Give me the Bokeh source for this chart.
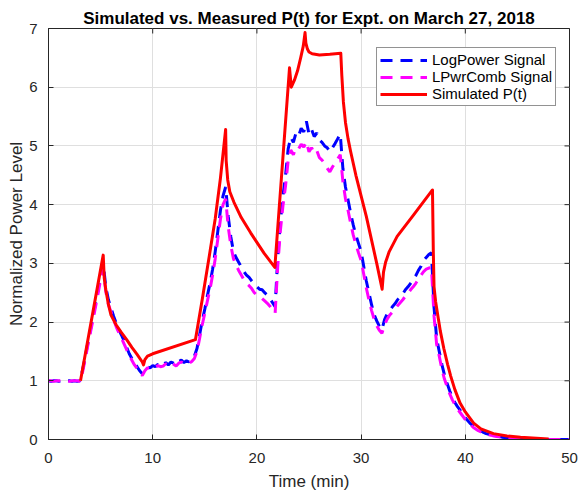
import numpy as np
from bokeh.plotting import figure
from bokeh.models import SingleIntervalTicker, Legend, LegendItem
from bokeh.embed import file_html
from bokeh.resources import INLINE

# ---- data ----
t_meas = np.arange(0, 50.001, 0.25)

logpower = [
    1.00, 0.99, 1.00, 1.00, 0.99, 1.00, 0.99, 1.00, 1.00, 0.99, 1.00, 0.99, 1.00, 1.17, 1.38, 1.62, 1.85, 2.08, 2.30, 2.55,
    2.80, 3.00, 2.60, 2.38, 2.24, 2.10, 1.98, 1.87, 1.78, 1.68, 1.57, 1.46, 1.38, 1.30, 1.24, 1.17, 1.12, 1.20, 1.24, 1.22,
    1.26, 1.24, 1.28, 1.25, 1.27, 1.31, 1.27, 1.32, 1.30, 1.27, 1.33, 1.35, 1.31, 1.34, 1.32, 1.36, 1.42, 1.55, 1.78, 2.02,
    2.22, 2.45, 2.66, 2.90, 3.20, 3.55, 3.90, 4.15, 4.30, 3.80, 3.45, 3.20, 3.10, 3.02, 2.94, 2.86, 2.80, 2.76, 2.70, 2.64,
    2.60, 2.56, 2.55, 2.50, 2.46, 2.40, 2.33, 2.26, 3.10, 3.70, 4.15, 4.50, 4.95, 5.15, 5.06, 5.22, 5.17, 5.30, 5.24, 5.42,
    5.20, 5.28, 5.16, 5.22, 5.10, 5.06, 5.00, 4.97, 4.90, 4.97, 5.04, 5.12, 5.20, 4.62, 4.30, 4.08, 3.85, 3.65, 3.48, 3.34,
    3.20, 2.95, 2.70, 2.50, 2.30, 2.13, 2.02, 1.93, 1.87, 2.04, 2.14, 2.20, 2.26, 2.31, 2.38, 2.42, 2.48, 2.55, 2.60, 2.66,
    2.72, 2.79, 2.88, 2.95, 3.05, 3.10, 3.15, 3.18, 2.25, 1.72, 1.50, 1.28, 1.10, 0.96, 0.83, 0.72, 0.63, 0.56, 0.50, 0.43,
    0.37, 0.32, 0.27, 0.23, 0.20, 0.17, 0.15, 0.12, 0.10, 0.09, 0.08, 0.07, 0.06, 0.05, 0.04, 0.035, 0.03, 0.025, 0.02, 0.015,
    0.012, 0.010, 0.008, 0.007, 0.006, 0.005, 0.004, 0.003, 0.003, 0.002, 0.002, 0.002, 0.001, 0.001, 0.001, 0.001, 0.0, 0.0, 0.0, 0.0,
    0.0,
]

lpwrcomb = [
    1.00, 1.00, 0.99, 1.00, 1.00, 0.99, 1.00, 1.00, 0.99, 1.00, 1.00, 1.00, 0.99, 1.13, 1.35, 1.58, 1.80, 2.02, 2.25, 2.48,
    2.72, 2.90, 2.52, 2.30, 2.17, 2.04, 1.92, 1.82, 1.73, 1.63, 1.53, 1.43, 1.35, 1.27, 1.21, 1.14, 1.09, 1.17, 1.22, 1.21,
    1.24, 1.23, 1.26, 1.24, 1.25, 1.29, 1.26, 1.30, 1.28, 1.25, 1.30, 1.32, 1.29, 1.31, 1.30, 1.33, 1.38, 1.50, 1.72, 1.95,
    2.15, 2.36, 2.56, 2.80, 3.08, 3.42, 3.75, 4.00, 4.10, 3.62, 3.30, 3.08, 2.97, 2.88, 2.80, 2.72, 2.66, 2.62, 2.57, 2.50,
    2.46, 2.42, 2.40, 2.36, 2.32, 2.27, 2.21, 2.15, 2.95, 3.55, 3.98, 4.32, 4.75, 4.93, 4.85, 4.97, 4.95, 5.03, 4.98, 5.07,
    4.90, 4.97, 4.88, 4.92, 4.80, 4.76, 4.70, 4.62, 4.56, 4.64, 4.71, 4.78, 4.85, 4.40, 4.10, 3.90, 3.68, 3.48, 3.32, 3.18,
    3.05, 2.82, 2.58, 2.38, 2.20, 2.05, 1.94, 1.86, 1.81, 1.95, 2.05, 2.12, 2.17, 2.22, 2.28, 2.33, 2.38, 2.44, 2.49, 2.55,
    2.60, 2.66, 2.73, 2.80, 2.86, 2.90, 2.92, 2.93, 2.10, 1.62, 1.42, 1.20, 1.03, 0.90, 0.78, 0.68, 0.59, 0.52, 0.46, 0.40,
    0.34, 0.29, 0.25, 0.21, 0.18, 0.15, 0.13, 0.11, 0.09, 0.08, 0.07, 0.06, 0.05, 0.045, 0.04, 0.03, 0.025, 0.02, 0.015, 0.012,
    0.010, 0.008, 0.007, 0.006, 0.005, 0.004, 0.003, 0.003, 0.002, 0.002, 0.002, 0.001, 0.001, 0.001, 0.001, 0.0, 0.0, 0.0, 0.0, 0.0,
    0.0,
]

t_sim = [3.07, 5.25, 5.35, 5.5, 5.75, 6.0, 6.5, 7.0, 7.5, 8.0, 8.5, 9.0, 9.12, 9.25, 9.5, 10.0,
         14.1, 14.75, 15.5, 16.0, 16.5, 17.0, 17.05, 17.2, 17.4, 17.8, 18.5, 19.4, 20.7, 21.72,
         23.13, 23.3, 23.6, 23.9, 24.2, 24.45, 24.62, 24.7, 24.85, 25.0, 25.3, 26.0, 27.0, 28.05,
         28.15, 28.3, 28.5, 28.75, 29.0, 29.5, 30.0, 30.5, 31.0, 31.5, 32.02, 32.15, 32.35, 32.7, 33.46,
         35.06, 36.85, 36.93, 37.0, 37.15, 37.3, 37.6, 37.94, 38.3, 38.6, 39.0, 39.5, 40.0, 40.8,
         41.5, 42.7, 44.0, 45.3, 48.0]
p_sim = [1.00, 3.14, 2.75, 2.55, 2.30, 2.12, 1.95, 1.82, 1.70, 1.57, 1.45, 1.32, 1.27, 1.36, 1.42, 1.46,
         1.70, 2.38, 3.20, 3.76, 4.45, 5.28, 4.75, 4.42, 4.22, 4.04, 3.78, 3.52, 3.17, 2.93,
         6.33, 6.00, 6.12, 6.28, 6.50, 6.70, 6.93, 6.75, 6.65, 6.60, 6.57, 6.55, 6.56, 6.58,
         6.20, 5.75, 5.40, 5.12, 4.90, 4.50, 4.15, 3.80, 3.40, 3.00, 2.56, 2.85, 3.02, 3.20, 3.46,
         3.83, 4.25, 3.20, 2.60, 2.35, 2.18, 1.85, 1.55, 1.28, 1.08, 0.85, 0.62, 0.47, 0.28,
         0.18, 0.10, 0.06, 0.04, 0.01]

series_names = ["LogPower Signal", "LPwrComb Signal", "Simulated P(t)"]
title_text = "Simulated vs. Measured P(t) for Expt. on March 27, 2018"
x_label = "Time (min)"
y_label = "Normalized Power Level"
x_ticks = [0, 10, 20, 30, 40, 50]
y_ticks = [0, 1, 2, 3, 4, 5, 6, 7]

FONT = "Liberation Sans"
AX = "#262626"

p = figure(width=579, height=493, x_range=(0, 50), y_range=(0, 7),
           output_backend="svg", toolbar_location=None,
           min_border_left=48, min_border_right=10, min_border_top=28, min_border_bottom=53)
p.background_fill_color = "white"
p.border_fill_color = "white"
p.outline_line_color = AX
p.outline_line_width = 1

p.title.text = title_text
p.title.align = "center"
p.title.text_font = FONT
p.title.text_font_size = "17px"
p.title.text_font_style = "bold"
p.title.text_color = "black"
p.title.standoff = 2

xt = SingleIntervalTicker(interval=10)
yt = SingleIntervalTicker(interval=1)
p.xaxis.ticker = xt
p.yaxis.ticker = yt

for ax in (p.xaxis[0], p.yaxis[0]):
    ax.axis_line_color = AX
    ax.major_tick_line_color = AX
    ax.major_tick_in = 5
    ax.major_tick_out = 0
    ax.minor_tick_line_color = None
    ax.major_label_text_font = FONT
    ax.major_label_text_font_size = "15px"
    ax.major_label_text_color = AX
    ax.axis_label_text_font = FONT
    ax.axis_label_text_font_size = "17px"
    ax.axis_label_text_font_style = "normal"
    ax.axis_label_text_color = AX

p.xaxis.axis_label = x_label
p.yaxis.axis_label = y_label
p.xaxis.major_label_standoff = 9
p.yaxis.major_label_standoff = 7
p.xaxis.axis_label_standoff = 6
p.yaxis.axis_label_standoff = 0

p.xgrid.ticker = xt
p.ygrid.ticker = yt
p.grid.grid_line_color = "#dfdfdf"
p.grid.grid_line_width = 1

# inner tick marks on the top and right edges of the box (clipped to the frame)
p.scatter(x=x_ticks, y=[p.y_range.end] * len(x_ticks), marker="dash", angle=np.pi / 2,
          size=10, line_color=AX, line_width=1)
p.scatter(x=[p.x_range.end] * len(y_ticks), y=y_ticks, marker="dash",
          size=10, line_color=AX, line_width=1)

r1 = p.line(t_meas, logpower, line_color="#0000ff", line_width=3, line_dash="12 8")
r2 = p.line(t_meas, lpwrcomb, line_color="#ff00ff", line_width=3, line_dash="12 8")
r3 = p.line(t_sim, p_sim, line_color="#ff0000", line_width=3, line_join="round")

legend = Legend(items=[LegendItem(label=series_names[0], renderers=[r1]),
                       LegendItem(label=series_names[1], renderers=[r2]),
                       LegendItem(label=series_names[2], renderers=[r3])],
                location=(328, 333), margin=0, padding=3, spacing=0,
                glyph_width=47, glyph_height=16, label_height=16, label_width=119,
                label_standoff=5, label_text_font=FONT, label_text_font_size="15px",
                label_text_color="black", border_line_color=AX, border_line_width=1,
                background_fill_color="white", background_fill_alpha=1.0)
p.add_layout(legend, "center")

open("out.html", "w").write(file_html(p, INLINE))
